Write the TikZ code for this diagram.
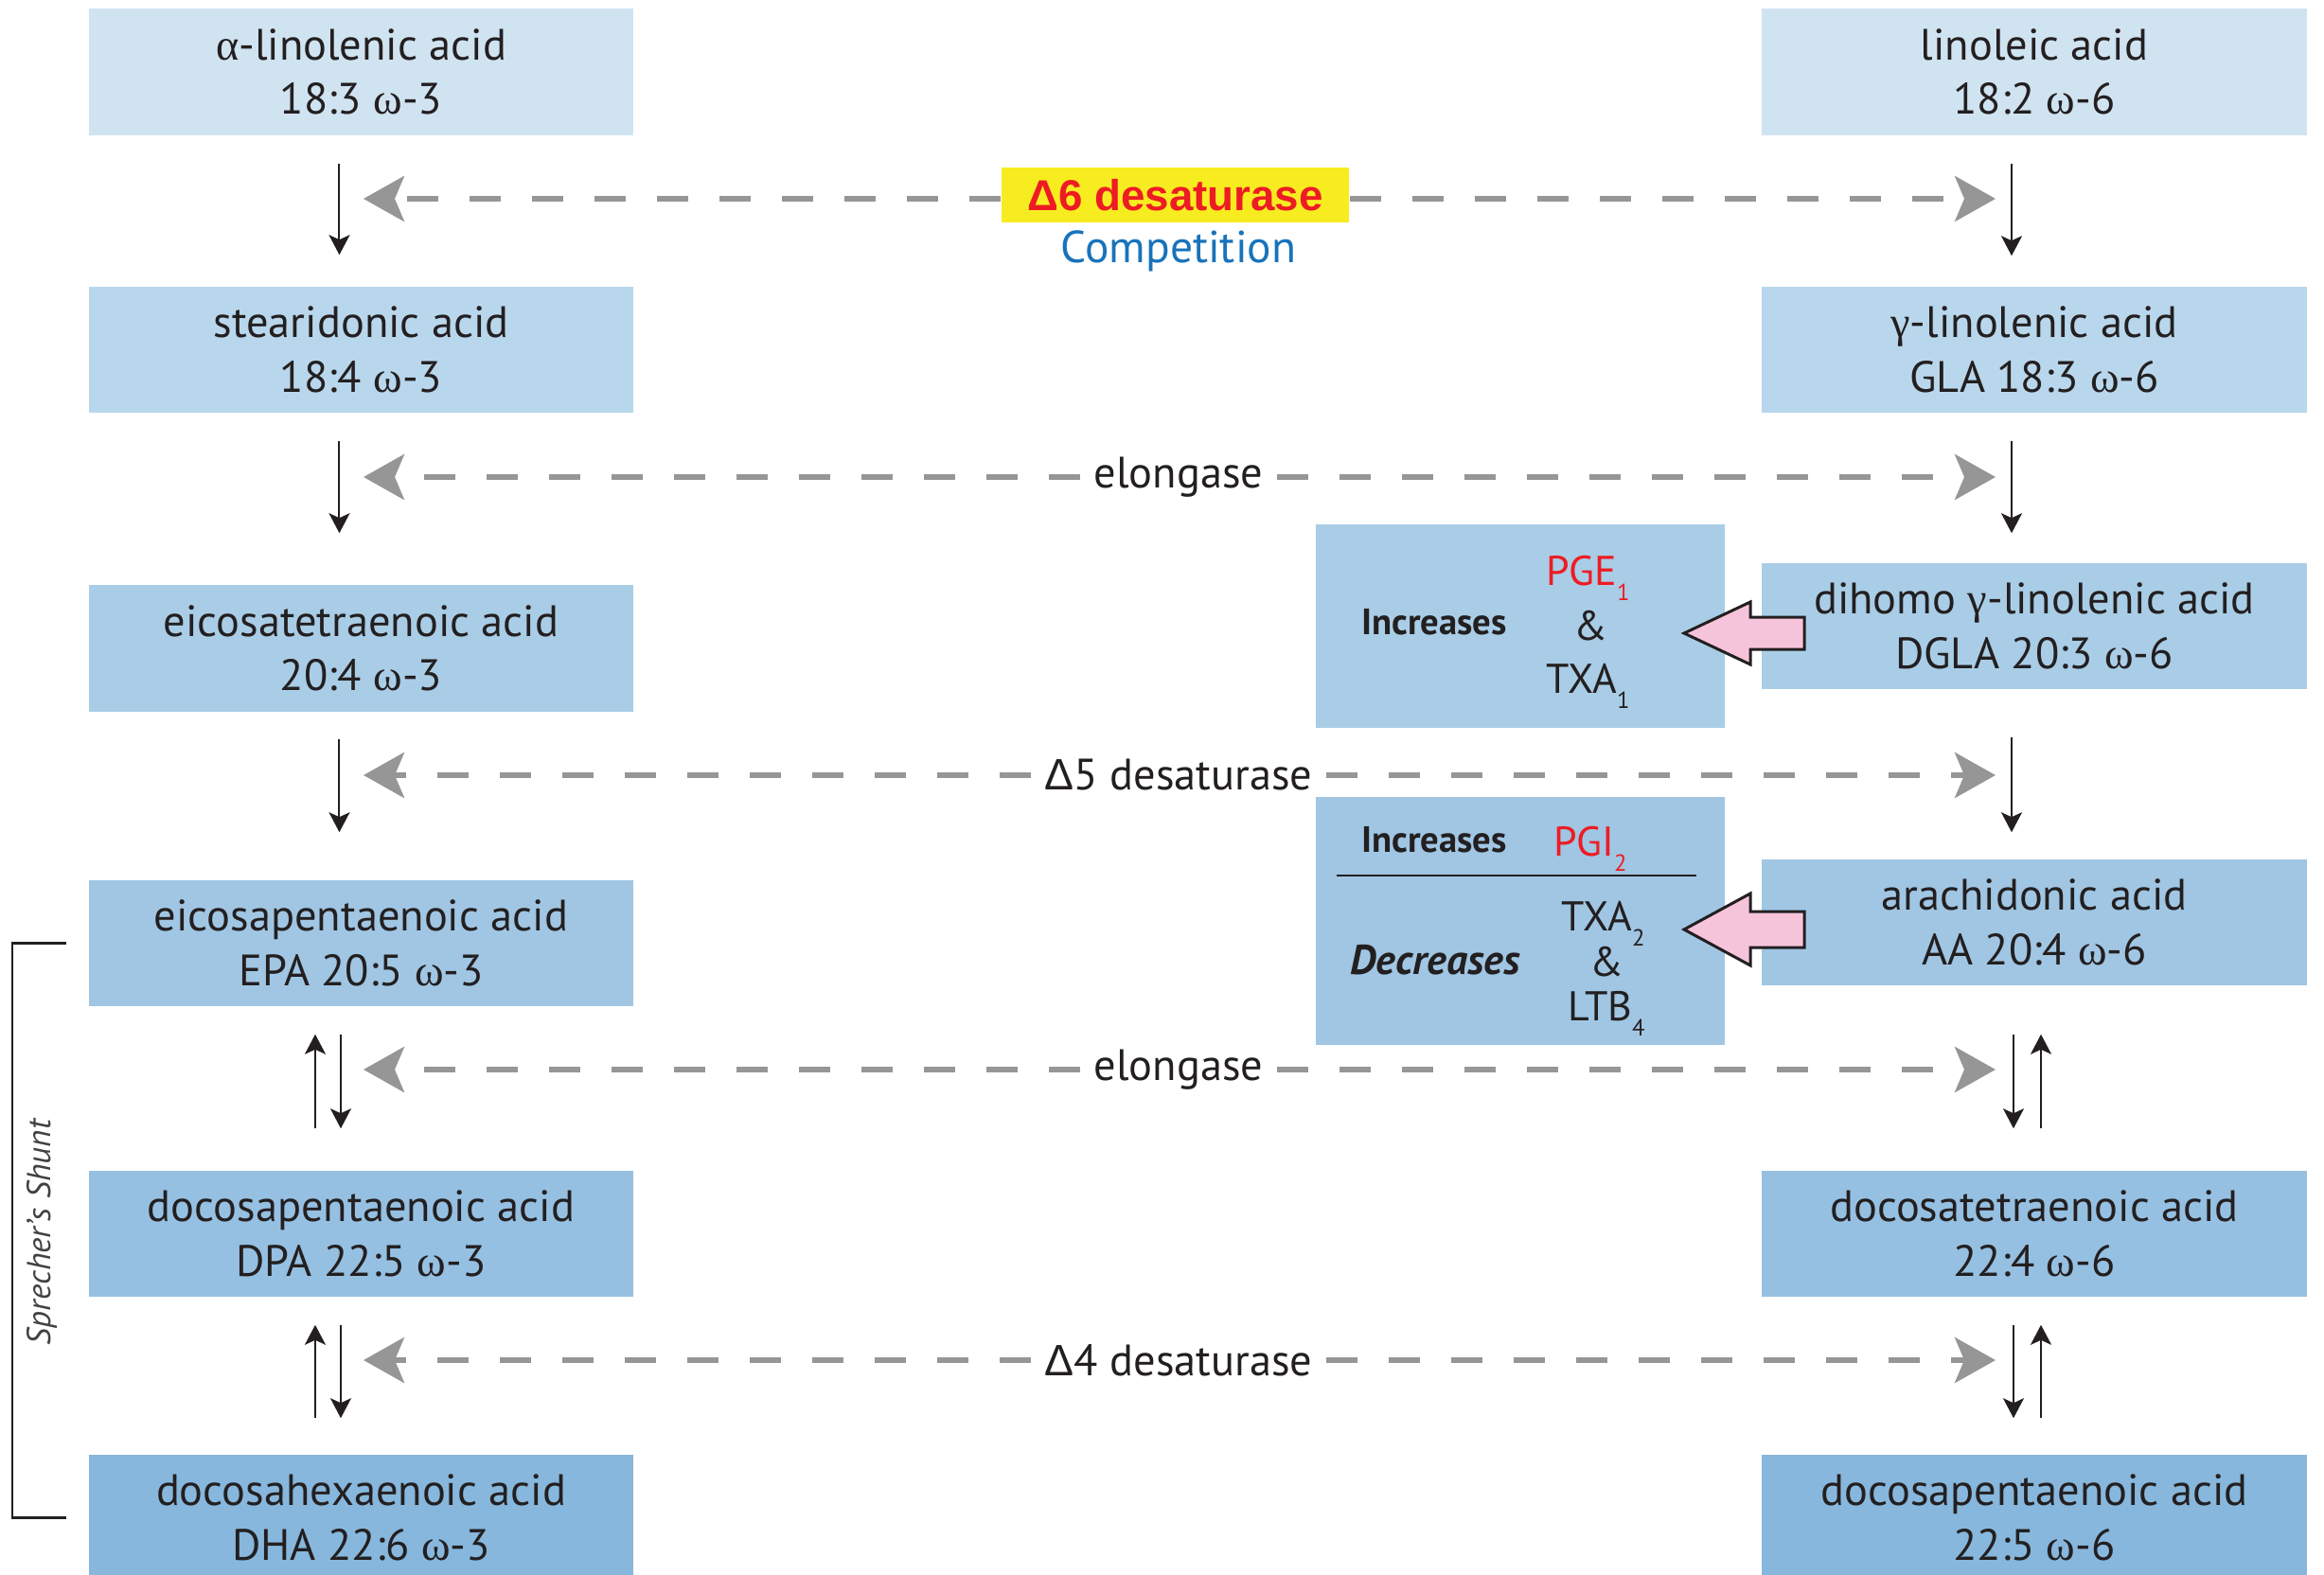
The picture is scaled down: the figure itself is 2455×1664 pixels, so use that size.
\documentclass[tikz,border=0pt]{standalone}
\usepackage{fontspec}
\setmainfont{PT Sans}
\newfontfamily\gk{Liberation Serif}
\newfontfamily\dlt{Liberation Sans}
\newfontfamily\arialfont{Liberation Sans}
\usetikzlibrary{arrows.meta}

\definecolor{rowa}{RGB}{208,227,241}
\definecolor{rowb}{RGB}{185,215,236}
\definecolor{rowc}{RGB}{169,205,230}
\definecolor{rowd}{RGB}{160,198,227}
\definecolor{rowe}{RGB}{149,192,226}
\definecolor{rowf}{RGB}{135,183,220}
\definecolor{ink}{RGB}{35,31,32}
\definecolor{dashgrey}{RGB}{150,150,150}
\definecolor{pgred}{RGB}{237,28,36}
\definecolor{hiyellow}{RGB}{247,236,32}
\definecolor{compblue}{RGB}{24,115,186}
\definecolor{pinkfill}{RGB}{246,196,218}

\newcommand{\lowsub}[1]{\raisebox{-4.8pt}{\fontsize{7}{7}\selectfont #1}}

\begin{document}
\begin{tikzpicture}[x=0.01cm, y=-0.01cm,
    acid/.style={fill=#1, minimum width=5.75cm, minimum height=1.33cm, inner sep=0pt,
      align=center, text=ink, font=\fontsize{13.2}{16.4}\selectfont},
    sidebox/.style={fill=#1, minimum width=4.32cm, inner sep=0pt},
    conv/.style={draw=ink, line width=0.02cm, -{Stealth[length=0.21cm, width=0.22cm, inset=0.05cm]}},
    compete/.style={draw=dashgrey, line width=0.055cm, dash pattern=on 0.33cm off 0.33cm,
      -{Stealth[length=0.43cm, width=0.48cm, inset=0.1cm, fill=dashgrey]}},
    enz/.style={fill=white, inner xsep=0.14cm, inner ysep=0pt, text=ink, font=\fontsize{13.2}{15}\selectfont},
    effect/.style={text=ink, font=\fontsize{12.5}{15}\selectfont, inner sep=0pt},
    blockarrow/.style={fill=pinkfill, draw=ink, line width=0.03cm, line join=miter}]

  \useasboundingbox (0,0) rectangle (2455,1664);

  % omega-3 column
  \node[acid=rowa] (l1) at (381.5,76) {{\gk α}-linolenic acid\\18:3 {\gk ω}-3};
  \node[acid=rowb] (l2) at (381.5,369.5) {stearidonic acid\\18:4 {\gk ω}-3};
  \node[acid=rowc] (l3) at (381.5,685) {eicosatetraenoic acid\\20:4 {\gk ω}-3};
  \node[acid=rowd] (l4) at (381.5,996.5) {eicosapentaenoic acid\\EPA 20:5 {\gk ω}-3};
  \node[acid=rowe] (l5) at (381.5,1303.5) {docosapentaenoic acid\\DPA 22:5 {\gk ω}-3};
  \node[acid=rowf] (l6) at (381.5,1603.5) {docosahexaenoic acid\\DHA 22:6 {\gk ω}-3};

  % omega-6 column
  \node[acid=rowa] (r1) at (2149,76) {linoleic acid\\18:2 {\gk ω}-6};
  \node[acid=rowb] (r2) at (2149,369.5) {{\gk γ}-linolenic acid\\GLA 18:3 {\gk ω}-6};
  \node[acid=rowc] (r3) at (2149,661.5) {dihomo {\gk γ}-linolenic acid\\DGLA 20:3 {\gk ω}-6};
  \node[acid=rowd] (r4) at (2149,974.5) {arachidonic acid\\AA 20:4 {\gk ω}-6};
  \node[acid=rowe] (r5) at (2149,1303.5) {docosatetraenoic acid\\22:4 {\gk ω}-6};
  \node[acid=rowf] (r6) at (2149,1603.5) {docosapentaenoic acid\\22:5 {\gk ω}-6};

  % steps, left
  \draw[conv, shorten <=0.3cm, shorten >=0.33cm] ([xshift=-0.23cm]l1.south) -- ([xshift=-0.23cm]l2.north);
  \draw[conv, shorten <=0.29cm, shorten >=0.545cm] ([xshift=-0.23cm]l2.south) -- ([xshift=-0.23cm]l3.north);
  \draw[conv, shorten <=0.285cm, shorten >=0.5cm] ([xshift=-0.23cm]l3.south) -- ([xshift=-0.23cm]l4.north);
  \draw[conv, shorten <=0.29cm, shorten >=0.44cm] ([xshift=-0.215cm]l4.south) -- ([xshift=-0.215cm]l5.north);
  \draw[conv, shorten <=0.44cm, shorten >=0.29cm] ([xshift=-0.485cm]l5.north) -- ([xshift=-0.485cm]l4.south);
  \draw[conv, shorten <=0.29cm, shorten >=0.38cm] ([xshift=-0.215cm]l5.south) -- ([xshift=-0.215cm]l6.north);
  \draw[conv, shorten <=0.38cm, shorten >=0.29cm] ([xshift=-0.485cm]l6.north) -- ([xshift=-0.485cm]l5.south);

  % steps, right
  \draw[conv, shorten <=0.295cm, shorten >=0.32cm] ([xshift=-0.24cm]r1.south) -- ([xshift=-0.24cm]r2.north);
  \draw[conv, shorten <=0.29cm, shorten >=0.31cm] ([xshift=-0.24cm]r2.south) -- ([xshift=-0.24cm]r3.north);
  \draw[conv, shorten <=0.5cm, shorten >=0.28cm] ([xshift=-0.24cm]r3.south) -- ([xshift=-0.24cm]r4.north);
  \draw[conv, shorten <=0.51cm, shorten >=0.44cm] ([xshift=-0.22cm]r4.south) -- ([xshift=-0.22cm]r5.north);
  \draw[conv, shorten <=0.44cm, shorten >=0.51cm] ([xshift=0.07cm]r5.north) -- ([xshift=0.07cm]r4.south);
  \draw[conv, shorten <=0.29cm, shorten >=0.38cm] ([xshift=-0.22cm]r5.south) -- ([xshift=-0.22cm]r6.north);
  \draw[conv, shorten <=0.38cm, shorten >=0.29cm] ([xshift=0.07cm]r6.north) -- ([xshift=0.07cm]r5.south);

  % enzymes shared by both sides
  \coordinate (d6l) at (384,210);   \coordinate (d6r) at (2108,210);
  \coordinate (el1l) at (384,504);  \coordinate (el1r) at (2108,504);
  \coordinate (d5l) at (384,819);   \coordinate (d5r) at (2108,819);
  \coordinate (el2l) at (384,1130); \coordinate (el2r) at (2108,1130);
  \coordinate (d4l) at (384,1437);  \coordinate (d4r) at (2108,1437);

  \node[fill=hiyellow, minimum width=3.67cm, minimum height=0.58cm, inner sep=0pt, text=pgred,
    font=\arialfont\bfseries\fontsize{13}{15}\selectfont] (d6) at (1241.5,206) {Δ6 desaturase};
  \node[text=compblue, font=\fontsize{13.5}{16}\selectfont] (comp) at (1245,265) {Competition};
  \node[enz] (el1) at (1245,504) {elongase};
  \node[enz] (d5) at (1245,819) {{\dlt Δ}5 desaturase};
  \node[enz] (el2) at (1245,1130) {elongase};
  \node[enz] (d4) at (1245,1437) {{\dlt Δ}4 desaturase};

  \draw[compete] (d6l -| d6.west) -- (d6l);
  \draw[compete] (d6r -| d6.east) -- (d6r);
  \draw[compete] (el1) -- (el1l);
  \draw[compete] (el1) -- (el1r);
  \draw[compete] (d5) -- (d5l);
  \draw[compete] (d5) -- (d5r);
  \draw[compete] (el2) -- (el2l);
  \draw[compete] (el2) -- (el2r);
  \draw[compete] (d4) -- (d4l);
  \draw[compete] (d4) -- (d4r);

  % eicosanoid effects
  \node[sidebox=rowc, minimum height=2.15cm] (s1) at (1606,661.5) {};
  \node[sidebox=rowd, minimum height=2.62cm] (s2) at (1606,973) {};

  \node[effect, anchor=base, font=\bfseries\fontsize{11}{13}\selectfont] (inc1) at (1515,670) {Increases};
  \node[effect, anchor=base west, text=pgred] (pge) at (1633,618) {PGE\lowsub{1}};
  \node[effect, anchor=base] (amp1) at (1680,676) {\&};
  \node[effect, anchor=base west] (txa1) at (1633,732) {TXA\lowsub{1}};

  \node[effect, anchor=base, font=\bfseries\fontsize{11}{13}\selectfont] (inc2) at (1515,900) {Increases};
  \node[effect, anchor=base west, text=pgred] (pgi) at (1641,904) {PGI\lowsub{2}};
  \draw[draw=ink, line width=0.02cm] (1412,925) -- (1792,925);
  \node[effect, anchor=base, font=\bfseries\itshape\fontsize{12.5}{14}\selectfont] (dec) at (1516,1029) {Decreases};
  \node[effect, anchor=base west] (txa2) at (1649,983) {TXA\lowsub{2}};
  \node[effect, anchor=base] (amp2) at (1697,1031) {\&};
  \node[effect, anchor=base west] (ltb) at (1656,1078) {LTB\lowsub{4}};

  \draw[blockarrow] (1906,652) -- (1849,652) -- (1849,636) -- (1779,669) -- (1849,702) -- (1849,686) -- (1906,686) -- cycle;
  \draw[blockarrow] (1906,963) -- (1849,963) -- (1849,944) -- (1779,982) -- (1849,1020) -- (1849,1001) -- (1906,1001) -- cycle;

  % Sprecher's shunt
  \draw[draw=ink, line width=0.025cm] ([xshift=-0.23cm]l4.west) -- ([xshift=-0.8cm]l4.west) -- ([xshift=-0.8cm]l6.west) -- ([xshift=-0.23cm]l6.west);
  \node[rotate=90, text=ink!85, font=\itshape\fontsize{10}{12}\selectfont] (shunt) at (44,1302) {Sprecher’s Shunt};
\end{tikzpicture}
\end{document}
